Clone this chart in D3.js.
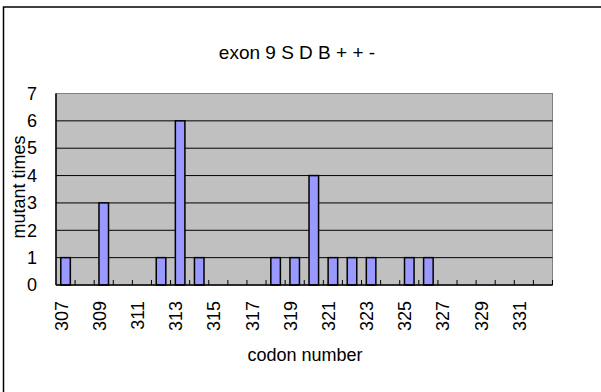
<!DOCTYPE html>
<html>
<head>
<meta charset="utf-8">
<script src="https://cdn.jsdelivr.net/npm/d3@7"></script>
<style>
  body { margin: 0; background: #fff; }
  svg { display: block; font-family: "Liberation Sans", Arial, sans-serif; }
</style>
</head>
<body>
<div id="chart"></div>
<script>
const codons = ["307", "308", "309", "310", "311", "312", "313", "314", "315", "316",
  "317", "318", "319", "320", "321", "322", "323", "324", "325", "326",
  "327", "328", "329", "330", "331", "332"];
const mutantTimes = [1, 0, 3, 0, 0, 1, 6, 1, 0, 0,
  0, 1, 1, 4, 1, 1, 1, 0, 1, 1,
  0, 0, 0, 0, 0, 0];
const xTickLabels = ["307", "309", "311", "313", "315", "317", "319",
  "321", "323", "325", "327", "329", "331"];
const yTicks = [0, 1, 2, 3, 4, 5, 6, 7];

const width = 601;
const height = 392;
const plot = { left: 56, right: 552.5, top: 93.5, bottom: 285 };

const svg = d3.select("#chart").append("svg")
  .attr("width", width)
  .attr("height", height);

// outer chart frame
svg.append("rect")
  .attr("x", 3.5)
  .attr("y", 7)
  .attr("width", 700)
  .attr("height", 500)
  .attr("fill", "none")
  .attr("stroke", "#000")
  .attr("stroke-width", 1.5);

// scales
const xb = d3.scaleBand()
  .domain(codons)
  .range([plot.left, plot.right]);
const x = d3.scaleBand()
  .domain(codons)
  .range([plot.left, plot.right])
  .paddingInner(0.5)
  .paddingOuter(0.25);
const y = d3.scaleLinear()
  .domain([0, 7])
  .range([plot.bottom, plot.top]);

// plot area
svg.append("rect")
  .attr("x", plot.left)
  .attr("y", plot.top)
  .attr("width", plot.right - plot.left)
  .attr("height", plot.bottom - plot.top)
  .attr("fill", "#c0c0c0")
  .attr("stroke", "#808080")
  .attr("stroke-width", 1);

// gridlines
svg.append("g")
  .selectAll("line")
  .data(yTicks.filter(d => d > 0 && d < 7))
  .enter().append("line")
  .attr("x1", plot.left)
  .attr("x2", plot.right)
  .attr("y1", d => y(d))
  .attr("y2", d => y(d))
  .attr("stroke", "#000")
  .attr("stroke-width", 1);

// bars
svg.append("g")
  .selectAll("rect")
  .data(codons.map((c, i) => ({ codon: c, value: mutantTimes[i] })).filter(d => d.value > 0))
  .enter().append("rect")
  .attr("x", d => x(d.codon))
  .attr("width", x.bandwidth())
  .attr("y", d => y(d.value))
  .attr("height", d => y(0) - y(d.value))
  .attr("fill", "#9999ff")
  .attr("stroke", "#000")
  .attr("stroke-width", 1.5);

// axis lines
svg.append("line")
  .attr("x1", plot.left).attr("x2", plot.left)
  .attr("y1", plot.top).attr("y2", plot.bottom)
  .attr("stroke", "#000").attr("stroke-width", 1.5);
svg.append("line")
  .attr("x1", plot.left).attr("x2", plot.right)
  .attr("y1", plot.bottom).attr("y2", plot.bottom)
  .attr("stroke", "#000").attr("stroke-width", 1.5);

// x tick marks between categories (inside)
svg.append("g")
  .selectAll("line")
  .data(codons.slice(1).concat(["end"]))
  .enter().append("line")
  .attr("x1", d => d === "end" ? plot.right : xb(d))
  .attr("x2", d => d === "end" ? plot.right : xb(d))
  .attr("y1", plot.bottom)
  .attr("y2", plot.bottom - 5)
  .attr("stroke", "#000")
  .attr("stroke-width", 1);

// x axis labels
const xAxis = d3.axisBottom(xb).tickValues(xTickLabels).tickSize(0);
const gx = svg.append("g")
  .attr("transform", "translate(0," + plot.bottom + ")")
  .call(xAxis);
gx.select(".domain").remove();
gx.selectAll("text")
  .attr("font-size", 18)
  .attr("font-family", "Liberation Sans, Arial, sans-serif")
  .attr("fill", "#000")
  .attr("transform", "translate(2,16) rotate(-90)")
  .attr("x", 0)
  .attr("y", 0)
  .attr("dy", 0)
  .style("text-anchor", "end");

// y axis labels
const yAxis = d3.axisLeft(y).tickValues(yTicks).tickFormat(d3.format("d"))
  .tickSize(0).tickPadding(19);
const gy = svg.append("g")
  .attr("transform", "translate(" + plot.left + ",0)")
  .call(yAxis);
gy.select(".domain").remove();
gy.selectAll("text")
  .attr("font-size", 18)
  .attr("font-family", "Liberation Sans, Arial, sans-serif")
  .attr("fill", "#000");

// title
svg.append("text")
  .attr("x", 297)
  .attr("y", 59)
  .attr("text-anchor", "middle")
  .attr("font-size", 19)
  .text("exon 9 S D B + + -");

// axis titles
svg.append("text")
  .attr("x", 305)
  .attr("y", 361)
  .attr("text-anchor", "middle")
  .attr("font-size", 18)
  .text("codon number");

svg.append("text")
  .attr("transform", "translate(25,187) rotate(-90)")
  .attr("text-anchor", "middle")
  .attr("font-size", 18)
  .text("mutant times");
</script>
</body>
</html>
